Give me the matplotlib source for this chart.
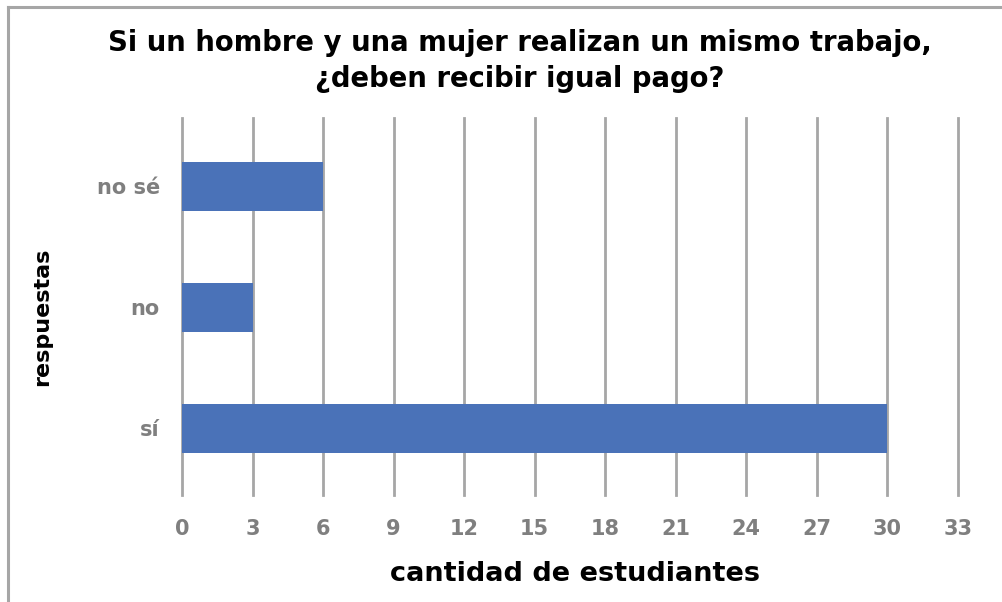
import matplotlib.pyplot as plt
from matplotlib.lines import Line2D

# Data
categorias = ['sí', 'no', 'no sé']
estudiantes = [30, 3, 6]
ticks_x = list(range(0, 34, 3))

plt.rcParams['font.family'] = ['DejaVu Sans']

fig = plt.figure(figsize=(10.03, 6.02), dpi=100)
ax = fig.add_axes([182 / 1003, 107 / 602, 776 / 1003, 377 / 602])

ax.barh(categorias, estudiantes, height=0.405, color='#4A72B8', zorder=3)

ax.set_xlim(0, 33)
ax.set_ylim(-0.55, 2.565)
ax.set_xticks(ticks_x)
ax.grid(True, axis='x', color='#A6A6A6', linewidth=2.0, zorder=0)
ax.grid(False, axis='y')
for gl in ax.get_xgridlines():
    gl.set_clip_on(False)
for s in ax.spines.values():
    s.set_visible(False)
ax.tick_params(length=0, labelsize=15, labelcolor='#7F7F7F', pad=17)
ax.tick_params(axis='y', pad=16)
for lbl in ax.get_xticklabels() + ax.get_yticklabels():
    lbl.set_fontweight('bold')

fig.text(42 / 1003, 1 - 317 / 602, 'respuestas', rotation=90, ha='center', va='center',
         fontsize=16, fontweight='bold')
fig.text(575 / 1003, 1 - 574 / 602, 'cantidad de estudiantes', ha='center', va='center',
         fontsize=19.5, fontweight='bold')
fig.text(520 / 1003, 1 - 61 / 602, 'Si un hombre y una mujer realizan un mismo trabajo,\n¿deben recibir igual pago?',
         ha='center', va='center', fontsize=19.8, fontweight='bold', linespacing=1.4)

# marco gris arriba e izquierda
fig.add_artist(Line2D([8 / 1003, 8 / 1003], [0, 1 - 7 / 602], color='#A6A6A6', linewidth=2.2))
fig.add_artist(Line2D([8 / 1003, 1], [1 - 7 / 602, 1 - 7 / 602], color='#A6A6A6', linewidth=2.2))

fig.savefig('out.png', dpi=100)
